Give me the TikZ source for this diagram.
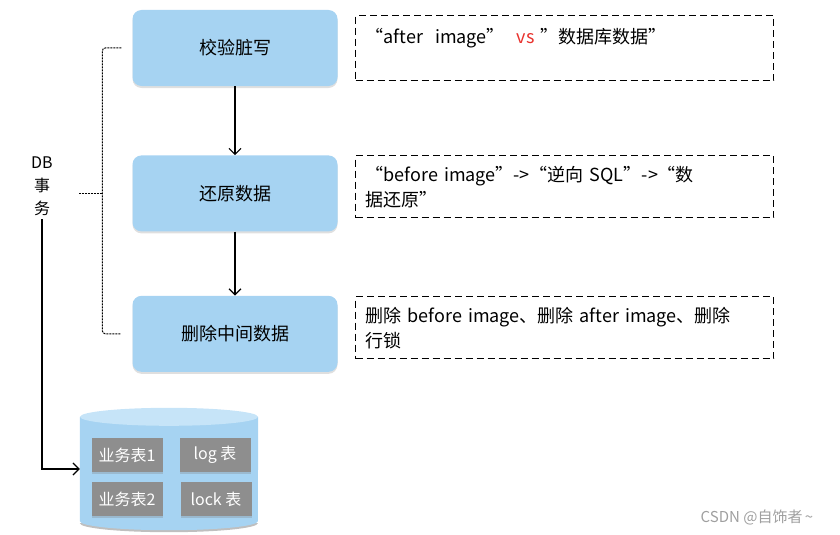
\documentclass[tikz,border=0pt]{standalone}
\usepackage{fontspec}
\setmainfont{Noto Sans CJK SC}
\usepackage{tikz}
\usetikzlibrary{positioning, arrows.meta, shapes.geometric, shadows}
\usepackage{xcolor}
\definecolor{skyblue}{HTML}{A6D3F2}
\definecolor{skytop}{HTML}{C6E4F8}
\definecolor{tblgray}{HTML}{8E8E8E}
\definecolor{vsred}{HTML}{E8322D}

\begin{document}
\begin{tikzpicture}[
    x=1pt, y=-1pt,
    every node/.style={font=\fontsize{18}{25}\selectfont},
    stepbox/.style={fill=skyblue, rounded corners=9pt, minimum width=205pt, minimum height=76pt, align=center,
        drop shadow={opacity=0.25, shadow xshift=0pt, shadow yshift=-2pt}},
    notebox/.style={draw, line width=1.3pt, dash pattern=on 7pt off 4pt, text width=398pt, inner xsep=10pt,
        inner ysep=6pt, minimum height=62pt, align=left, anchor=north west},
    tblbox/.style={fill=tblgray, text=white, minimum width=71pt, minimum height=34pt, inner sep=2pt,
        font=\fontsize{16}{20}\selectfont, drop shadow={opacity=0.3, shadow xshift=0pt, shadow yshift=-2pt}},
    arr/.style={-{Straight Barb[length=6pt, width=12pt]}, line width=1.2pt},
    brace/.style={dash pattern=on 2pt off 1pt, line width=1pt, rounded corners=3pt}
]
\useasboundingbox (0,0) rectangle (840,535);

% steps
\node[stepbox] (chk) at (235,48) {校验脏写};
\node[stepbox, below=69pt of chk] (rst) {还原数据};
\node[stepbox, below=64pt of rst] (del) {删除中间数据};

\draw[arr] (chk) -- (rst);
\draw[arr] (rst) -- (del);

% notes
\node[notebox, minimum height=65pt] (chkn) at (355,15) {“after\ \ image”\ \ \textcolor{vsred}{vs} ”数据库数据”\\\mbox{}};
\node[notebox] (rstn) at (355,155) {“before image”->“逆向 SQL”->“数\\据还原”};
\node[notebox] (deln) at (355,296) {删除 before image、删除 after image、删除\\行锁};

% DB transaction
\node[align=center, font=\fontsize{16}{23}\selectfont] (db) at (42,186) {DB\\事\\务};
\coordinate (brk) at ([xshift=-30pt]rst.west);
\draw[brace] ([xshift=-11pt]chk.west) -| (brk) |- ([xshift=-11pt]del.west);
\draw[brace] (brk) -- ([xshift=-23pt]brk);

% database
\node[minimum width=178pt, minimum height=122pt, inner sep=0pt] (dbs) at (169,469) {};
\fill[black!25] ([yshift=7pt]dbs.south west) arc[start angle=180, end angle=360, x radius=89pt, y radius=9pt] -- cycle;
\fill[skyblue] ([yshift=-9pt]dbs.north west) -- ([yshift=9pt]dbs.south west)
    arc[start angle=180, end angle=360, x radius=89pt, y radius=9pt] -- ([yshift=-9pt]dbs.north east) -- cycle;
\fill[skytop] ([yshift=-9pt]dbs.north) ellipse[x radius=89pt, y radius=9pt];
\node[tblbox] (t1) at (127,455) {业务表1};
\node[tblbox] (tlog) at (215,455) {log 表};
\node[tblbox] (t2) at (127,499) {业务表2};
\node[tblbox] (tlock) at (216,499) {lock 表};

\draw[arr] (db.south) |- (dbs.west);

\node[text=gray!75, font=\fontsize{15}{18}\selectfont] (wm) at (757,517) {CSDN @自饰者\,\textasciitilde};
\end{tikzpicture}
\end{document}
